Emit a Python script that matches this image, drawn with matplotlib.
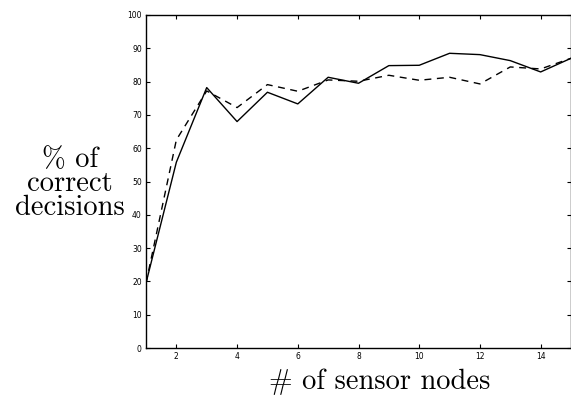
import matplotlib
matplotlib.use("Agg")
import matplotlib.pyplot as plt

nodes = list(range(1, 16))
solid = [19.5, 55.8, 78.2, 68.0, 76.8, 73.3, 81.3, 79.5, 84.8, 84.9, 88.5, 88.1, 86.3, 82.9, 87.0]
dashed = [19.5, 62.5, 77.2, 72.2, 79.1, 77.1, 80.5, 80.1, 81.9, 80.4, 81.3, 79.3, 84.4, 83.8, 87.0]

fig = plt.figure(figsize=(5.71, 3.98), dpi=100)
ax = fig.add_axes([146 / 571, 50 / 398, 425 / 571, 333 / 398])

ax.plot(nodes, solid, color="black", lw=1.0)
ax.plot(nodes, dashed, color="black", lw=1.0, ls=(0, (5, 4)))

ax.set_xlim(1, 15)
ax.set_ylim(0, 100)
ax.set_xticks(range(2, 15, 2))
ax.set_yticks(range(0, 101, 10))
ax.tick_params(direction="in", length=3, width=0.8, labelsize=5.5,
               top=True, right=True, pad=3, colors="black")
for s in ax.spines.values():
    s.set_linewidth(1.0)

serif = ["cmr10", "DejaVu Serif"]
fig.text(70 / 571, 1 - 184 / 398, "% of\ncorrect\ndecisions", family=serif,
         fontsize=20.5, ha="center", va="center", multialignment="center",
         linespacing=0.88)
fig.text(380 / 571, 1 - 382 / 398, "# of sensor nodes", family=serif,
         fontsize=20.5, ha="center", va="center")

fig.savefig("out.png", dpi=100)
